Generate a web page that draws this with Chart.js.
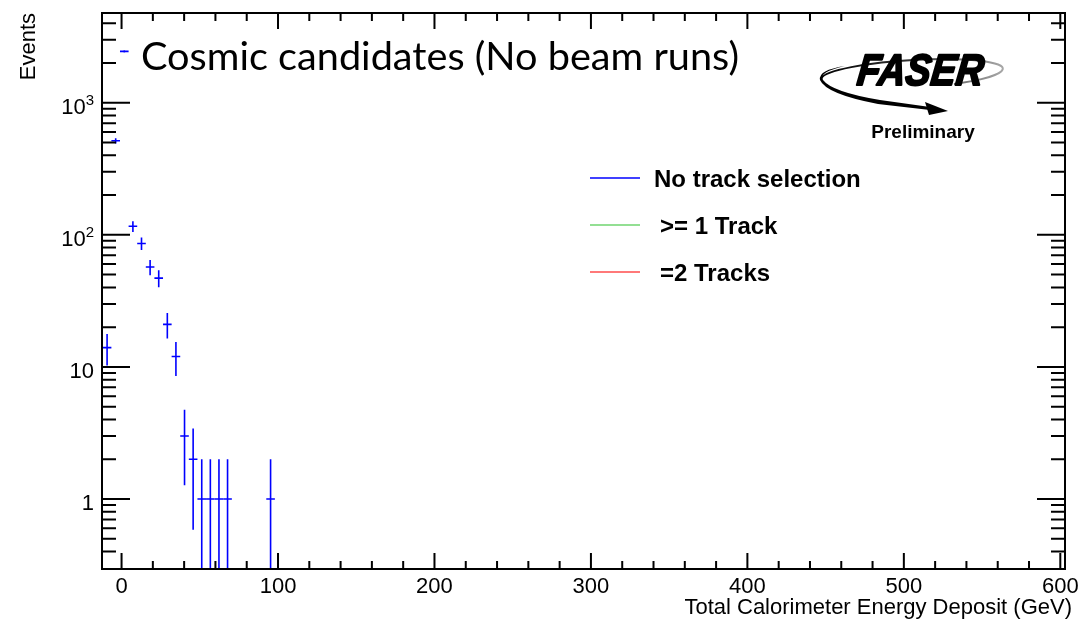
<!DOCTYPE html>
<html>
<head>
<meta charset="utf-8">
<script src="https://cdn.jsdelivr.net/npm/chart.js@4.4.1/dist/chart.umd.min.js"></script>
<style>
  html, body { margin: 0; padding: 0; background: #ffffff; }
  canvas { display: block; }
</style>
</head>
<body>
<canvas id="chart" width="1079" height="620" style="width:1079px;height:620px"></canvas>
<script>
// Total calorimeter energy histogram: bin centres (GeV) and event counts per bin
const binCenters = [-9.25, -3.75, 1.75, 7.25, 12.75, 18.25, 23.75, 29.25, 34.75, 40.25, 45.75, 51.25, 56.75, 62.25, 67.75, 95.25];
const eventCounts = [14, 515, 2450, 116, 86, 57, 47, 21, 12, 3, 2, 1, 1, 1, 1, 1];
const binWidth = 5.5;

// Axis ranges and ticks
const xRange = [-12.5, 603];
const yRange = [0.295, 4780];
const xMajorTicks = [0, 100, 200, 300, 400, 500, 600];
const xTickLabels = ['0', '100', '200', '300', '400', '500', '600'];
const xMinorTicks = [20, 40, 60, 80, 120, 140, 160, 180, 220, 240, 260, 280, 320, 340, 360, 380,
                     420, 440, 460, 480, 520, 540, 560, 580];
const yMajorTicks = [1, 10, 100, 1000];
const yTickBase = ['1', '10', '10', '10'];
const yTickExponent = ['', '', '2', '3'];
const yMinorTicks = [0.4, 0.5, 0.6, 0.7, 0.8, 0.9, 2, 3, 4, 5, 6, 7, 8, 9,
                     20, 30, 40, 50, 60, 70, 80, 90, 200, 300, 400, 500, 600, 700, 800, 900,
                     2000, 3000, 4000];

// Text
const plotLabel = 'Cosmic candidates (No beam runs)';
const xTitle = 'Total Calorimeter Energy Deposit (GeV)';
const yTitle = 'Events';
const legendLabels = ['No track selection', '>= 1 Track', '=2 Tracks'];
const legendColors = ['#0000ff', '#6fd46f', '#ff4d4d'];

const FONT = "'Liberation Sans', Arial, Helvetica, sans-serif";

function drawFaserLogo(ctx) {
  ctx.save();
  // swoosh ring (thin, fading to grey on the right)
  const grad = ctx.createLinearGradient(820, 0, 1005, 0);
  grad.addColorStop(0, '#000');
  grad.addColorStop(0.5, '#333');
  grad.addColorStop(1, '#aaa');
  ctx.strokeStyle = grad;
  ctx.lineWidth = 2;
  ctx.beginPath();
  ctx.ellipse(912, 74, 91, 14, -0.06, Math.PI * 1.02, Math.PI * 2.35);
  ctx.stroke();
  // heavy left edge of the ring sweeping into the arrow
  ctx.fillStyle = '#000';
  ctx.beginPath();
  ctx.moveTo(845, 66);
  ctx.quadraticCurveTo(818, 72, 823, 80);
  ctx.quadraticCurveTo(832, 92, 880, 100);
  ctx.lineTo(930, 107);
  ctx.lineTo(930, 110);
  ctx.lineTo(878, 104);
  ctx.quadraticCurveTo(826, 94, 820, 80);
  ctx.quadraticCurveTo(818, 70, 845, 66);
  ctx.closePath();
  ctx.fill();
  // arrow head
  ctx.beginPath();
  ctx.moveTo(948, 111);
  ctx.lineTo(925, 102);
  ctx.lineTo(929, 115);
  ctx.closePath();
  ctx.fill();
  // lettering, heavy and slanted
  ctx.font = "bold italic 44px " + FONT;
  ctx.textBaseline = 'alphabetic';
  ctx.textAlign = 'left';
  const w = ctx.measureText('FASER').width;
  ctx.translate(856, 85);
  ctx.transform(1, 0, -0.12, 1, 0, 0);
  ctx.scale(126 / w, 1);
  ctx.fillStyle = '#000';
  ctx.strokeStyle = '#000';
  ctx.lineWidth = 2;
  ctx.lineJoin = 'round';
  ctx.fillText('FASER', 0, 0);
  ctx.strokeText('FASER', 0, 0);
  ctx.restore();

  ctx.save();
  ctx.font = "bold 19px " + FONT;
  ctx.fillStyle = '#000';
  ctx.textAlign = 'center';
  ctx.textBaseline = 'alphabetic';
  ctx.fillText('Preliminary', 923, 138);
  ctx.restore();
}

const rootStyle = {
  id: 'rootStyle',
  beforeDraw(chart) {
    const ctx = chart.ctx;
    ctx.save();
    ctx.fillStyle = '#ffffff';
    ctx.fillRect(0, 0, chart.width, chart.height);
    ctx.restore();
  },
  afterDatasetsDraw(chart) {
    // error-bar crosses: horizontal = bin width, vertical = sqrt(N)
    const ctx = chart.ctx;
    const a = chart.chartArea;
    const xs = chart.scales.x, ys = chart.scales.y;
    const meta = chart.getDatasetMeta(0);
    ctx.save();
    ctx.beginPath();
    ctx.rect(a.left, a.top, a.right - a.left, a.bottom - a.top);
    ctx.clip();
    ctx.strokeStyle = '#0000ff';
    ctx.lineWidth = 1.6;
    meta.data.forEach((pt, i) => {
      const n = eventCounts[i];
      const err = Math.sqrt(n);
      const yHi = ys.getPixelForValue(n + err);
      const yLo = (n - err) > 0 ? ys.getPixelForValue(n - err) : a.bottom;
      const xL = xs.getPixelForValue(binCenters[i] - binWidth / 2);
      const xR = xs.getPixelForValue(binCenters[i] + binWidth / 2);
      ctx.beginPath();
      ctx.moveTo(pt.x, yHi);
      ctx.lineTo(pt.x, yLo);
      ctx.moveTo(xL, pt.y);
      ctx.lineTo(xR, pt.y);
      ctx.stroke();
    });
    ctx.restore();
  },
  afterDraw(chart) {
    const ctx = chart.ctx;
    const a = chart.chartArea;
    const xs = chart.scales.x, ys = chart.scales.y;
    ctx.save();
    ctx.strokeStyle = '#000';
    ctx.lineWidth = 2;
    // frame
    ctx.strokeRect(a.left, a.top, a.right - a.left, a.bottom - a.top);
    // ticks on all four sides
    ctx.beginPath();
    const xTick = (v, len) => {
      const x = xs.getPixelForValue(v);
      ctx.moveTo(x, a.bottom); ctx.lineTo(x, a.bottom - len);
      ctx.moveTo(x, a.top); ctx.lineTo(x, a.top + len);
    };
    const yTick = (v, len) => {
      const y = ys.getPixelForValue(v);
      ctx.moveTo(a.left, y); ctx.lineTo(a.left + len, y);
      ctx.moveTo(a.right, y); ctx.lineTo(a.right - len, y);
    };
    xMajorTicks.forEach(v => xTick(v, 16));
    xMinorTicks.forEach(v => xTick(v, 8));
    yMajorTicks.forEach(v => yTick(v, 28));
    yMinorTicks.forEach(v => yTick(v, 14));
    ctx.stroke();

    // x tick labels
    ctx.fillStyle = '#000';
    ctx.font = '22px ' + FONT;
    ctx.textAlign = 'center';
    ctx.textBaseline = 'alphabetic';
    xMajorTicks.forEach((v, i) => {
      ctx.fillText(xTickLabels[i], xs.getPixelForValue(v), 593);
    });

    // y tick labels with superscript exponents
    ctx.textAlign = 'left';
    yMajorTicks.forEach((v, i) => {
      const y = ys.getPixelForValue(v);
      ctx.font = '22px ' + FONT;
      const bw = ctx.measureText(yTickBase[i]).width;
      ctx.font = '15px ' + FONT;
      const ew = yTickExponent[i] ? ctx.measureText(yTickExponent[i]).width : 0;
      const x0 = 94 - bw - ew;
      ctx.font = '22px ' + FONT;
      ctx.fillText(yTickBase[i], x0, y + 11);
      if (yTickExponent[i]) {
        ctx.font = '15px ' + FONT;
        ctx.fillText(yTickExponent[i], x0 + bw, y + 2);
      }
    });

    // axis titles
    ctx.font = '22px ' + FONT;
    ctx.textAlign = 'right';
    ctx.fillText(xTitle, 1072, 614);
    ctx.save();
    ctx.translate(35, 13);
    ctx.rotate(-Math.PI / 2);
    ctx.textAlign = 'right';
    ctx.fillText(yTitle, 0, 0);
    ctx.restore();

    // sample label
    ctx.save();
    ctx.font = '39px Lato, ' + FONT;
    ctx.textAlign = 'left';
    const tw = ctx.measureText(plotLabel).width;
    ctx.translate(141, 70);
    ctx.scale(598 / tw, 1);
    ctx.fillText(plotLabel, 0, 0);
    ctx.restore();

    // legend
    const legendY = [178, 225, 272];
    const legendTextX = [654, 660, 660];
    legendLabels.forEach((lab, i) => {
      ctx.strokeStyle = legendColors[i];
      ctx.lineWidth = 1.5;
      ctx.beginPath();
      ctx.moveTo(590, legendY[i]);
      ctx.lineTo(640, legendY[i]);
      ctx.stroke();
      ctx.fillStyle = '#000';
      ctx.font = 'bold 24px ' + FONT;
      ctx.textAlign = 'left';
      ctx.fillText(lab, legendTextX[i], legendY[i] + 9);
    });

    drawFaserLogo(ctx);
    ctx.restore();
  }
};

const chart = new Chart(document.getElementById('chart'), {
  type: 'scatter',
  data: {
    datasets: [{
      label: plotLabel,
      data: binCenters.map((x, i) => ({ x: x, y: eventCounts[i] })),
      pointRadius: 0,
      pointHoverRadius: 0,
      showLine: false,
      borderColor: '#0000ff',
      backgroundColor: '#0000ff'
    }]
  },
  options: {
    responsive: false,
    animation: false,
    devicePixelRatio: 1,
    layout: { padding: { top: 13, right: 14, left: 0, bottom: 0 } },
    plugins: { legend: { display: false }, tooltip: { enabled: false }, title: { display: false } },
    events: [],
    scales: {
      x: {
        type: 'linear',
        min: xRange[0],
        max: xRange[1],
        grid: { display: false, drawTicks: false },
        border: { display: false },
        ticks: { display: false },
        afterFit(scale) { scale.height = 51; }
      },
      y: {
        type: 'logarithmic',
        min: yRange[0],
        max: yRange[1],
        grid: { display: false, drawTicks: false },
        border: { display: false },
        ticks: { display: false },
        afterFit(scale) { scale.width = 102; }
      }
    }
  },
  plugins: [rootStyle]
});
</script>
</body>
</html>
